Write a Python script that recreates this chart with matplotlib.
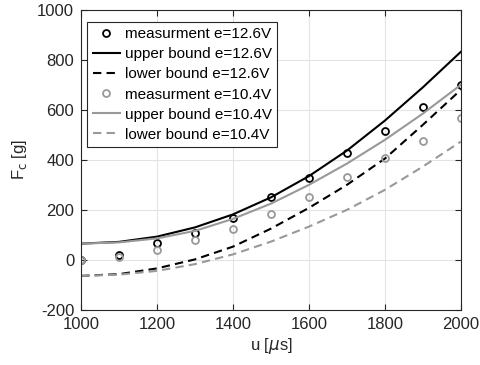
# Fuerza de empuje vs ancho de pulso
import numpy as np
import matplotlib.pyplot as plt

plt.rcParams['font.family'] = ['Liberation Sans', 'DejaVu Sans']
plt.rcParams['axes.unicode_minus'] = False

u = [1000, 1100, 1200, 1300, 1400, 1500, 1600, 1700, 1800, 1900, 2000]

meas_126 = [0, 20, 67, 109, 169, 251, 327, 428, 516, 611, 701]
upper_126 = [65, 72, 93, 130, 182, 250, 335, 437, 557, 690, 832]
lower_126 = [-64, -57, -34, 2, 53, 125, 208, 300, 405, 540, 680]

meas_104 = [0, 10, 40, 80, 125, 183, 251, 331, 409, 477, 569]
upper_104 = [65, 70, 86, 116, 164, 225, 300, 385, 480, 585, 700]
lower_104 = [-64, -59, -44, -17, 22, 73, 133, 200, 280, 373, 473]

gris = '#999999'
axis_col = '#262626'

fig = plt.figure(figsize=(4.8, 3.65), dpi=100)
ax = fig.add_axes([0.169, 0.151, 0.791, 0.822])

ax.plot(u, meas_126, 'o', color='black', mfc='none', ms=5, mew=1.3,
        label='measurment e=12.6V')
ax.plot(u, upper_126, '-', color='black', lw=1.5, label='upper bound e=12.6V')
ax.plot(u, lower_126, '--', color='black', lw=1.5, dashes=(4, 2.5),
        label='lower bound e=12.6V')
ax.plot(u, meas_104, 'o', color=gris, mfc='none', ms=5, mew=1.3,
        label='measurment e=10.4V')
ax.plot(u, upper_104, '-', color=gris, lw=1.5, label='upper bound e=10.4V')
ax.plot(u, lower_104, '--', color=gris, lw=1.5, dashes=(4, 2.5),
        label='lower bound e=10.4V')

ax.set_xlim(1000, 2000)
ax.set_ylim(-200, 1000)
ax.set_xticks(np.arange(1000, 2001, 200))
ax.set_yticks(np.arange(-200, 1001, 200))
ax.grid(True, color='#e3e3e3', lw=0.8)
ax.set_axisbelow(True)
ax.tick_params(direction='in', length=4, labelsize=12, colors=axis_col,
               top=True, right=True, pad=5)
for s in ax.spines.values():
    s.set_color(axis_col)
    s.set_linewidth(0.8)

ax.set_xlabel(r'u [$\mu$s]', fontsize=12, color=axis_col, labelpad=3)
ax.set_ylabel(r'F$_\mathrm{c}$ [g]', fontsize=12, color=axis_col, labelpad=6)

leg = ax.legend(loc='upper left', bbox_to_anchor=(0.016, 0.96),
                borderaxespad=0, fontsize=11, handlelength=1.8,
                handletextpad=0.3, labelspacing=0.4, borderpad=0.35,
                fancybox=False, framealpha=1, edgecolor=axis_col)
leg.get_frame().set_linewidth(0.8)

plt.savefig('out.png')
